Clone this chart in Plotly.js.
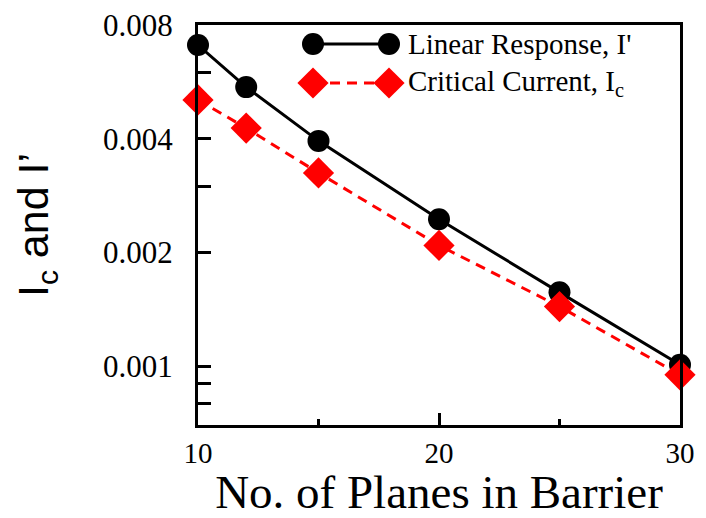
<!DOCTYPE html>
<html>
<head>
<meta charset="utf-8">
<script src="https://cdn.plot.ly/plotly-3.0.1.min.js"></script>
<style>
  html, body { margin: 0; padding: 0; background: #fff; }
  #chart { width: 706px; height: 518px; }
</style>
</head>
<body>
<div id="chart"></div>
<script>
// Number of planes in the barrier
const planes = [10, 12, 15, 20, 25, 30];
// Linear response current I'
const linearResponse = [0.00708, 0.00548, 0.00395, 0.00245, 0.00157, 0.00101];
// Critical current I_c
const criticalCurrent = [0.00507, 0.00427, 0.00325, 0.00209, 0.00144, 0.00095];

// Axis ticks
const xMajorTicks = [10, 20, 30];
const xMinorTicks = [15, 25];
const yMajorTicks = [0.001, 0.002, 0.004, 0.008];
const yTickText = ['0.001', '0.002', '0.004', '0.008'];
const yMinorTicks = [0.0008, 0.0009, 0.003, 0.006];

const seriesNames = ["Linear Response, I'", 'Critical Current, I<sub>c</sub>'];

const W = 706, H = 518;
const M = { l: 198, r: 26, t: 25, b: 93 };
const plotW = W - M.l - M.r, plotH = H - M.t - M.b;
// pixel -> paper coordinates for the in-plot key
const px = x => (x - M.l) / plotW;
const py = y => (H - M.b - y) / plotH;

const serif = 'Liberation Serif, Times New Roman, serif';
const RED = '#ff0000';

const traces = [
  {
    x: planes, y: linearResponse, name: seriesNames[0],
    type: 'scatter', mode: 'lines+markers', cliponaxis: false,
    line: { color: '#000', width: 3 },
    marker: { symbol: 'circle', size: 22, color: '#000' }
  },
  {
    x: planes, y: criticalCurrent, name: seriesNames[1],
    type: 'scatter', mode: 'lines+markers', cliponaxis: false,
    line: { color: RED, width: 3, dash: '10px,7px' },
    marker: { symbol: 'diamond', size: 24, color: RED }
  }
];

// Key drawn inside the frame: line with a marker at each end, then the label
const keyX0 = 313, keyX1 = 389, keyTextX = 406;
const rows = [44, 83];
const shapes = [];
const annotations = [];

rows.forEach((rowY, i) => {
  const isLinear = i === 0;
  const color = isLinear ? '#000' : RED;
  shapes.push({
    type: 'line', xref: 'paper', yref: 'paper', layer: 'above',
    x0: px(keyX0), x1: px(keyX1), y0: py(rowY), y1: py(rowY),
    line: { color: color, width: 3, dash: isLinear ? 'solid' : '10px,7px' }
  });
  [keyX0, keyX1].forEach(cx => {
    if (isLinear) {
      shapes.push({
        type: 'circle', xref: 'paper', yref: 'paper', layer: 'above',
        xsizemode: 'pixel', ysizemode: 'pixel',
        xanchor: px(cx), yanchor: py(rowY),
        x0: -11, x1: 11, y0: -11, y1: 11,
        fillcolor: color, line: { width: 0 }
      });
    } else {
      shapes.push({
        type: 'path', xref: 'paper', yref: 'paper', layer: 'above',
        xsizemode: 'pixel', ysizemode: 'pixel',
        xanchor: px(cx), yanchor: py(rowY),
        path: 'M-15.6,0 L0,15.6 L15.6,0 L0,-15.6 Z',
        fillcolor: color, line: { width: 0 }
      });
    }
  });
  annotations.push({
    xref: 'paper', yref: 'paper', x: px(keyTextX), y: py(rowY),
    xanchor: 'left', yanchor: 'middle', showarrow: false,
    text: seriesNames[i],
    font: { family: serif, size: 29, color: '#000' }
  });
});

const layout = {
  width: W, height: H,
  margin: M,
  paper_bgcolor: '#fff', plot_bgcolor: '#fff',
  showlegend: false,
  xaxis: {
    range: [10, 30],
    tickmode: 'array', tickvals: xMajorTicks, ticktext: xMajorTicks.map(String),
    ticks: 'inside', ticklen: 12, tickwidth: 3, tickcolor: '#000',
    minor: { tickmode: 'array', tickvals: xMinorTicks, ticks: 'inside', ticklen: 6, tickwidth: 3, tickcolor: '#000', showgrid: false },
    showline: true, linewidth: 3, linecolor: '#000', mirror: true,
    showgrid: false, zeroline: false,
    tickfont: { family: serif, size: 29, color: '#000' },
    ticklabelstandoff: 0,
    title: { text: 'No. of Planes in Barrier', font: { family: serif, size: 47, color: '#000' }, standoff: 14 },
    automargin: false
  },
  yaxis: {
    type: 'log',
    range: [Math.log10(0.0007), Math.log10(0.008)],
    tickmode: 'array', tickvals: yMajorTicks, ticktext: yTickText,
    ticks: 'inside', ticklen: 13, tickwidth: 3, tickcolor: '#000',
    minor: { tickmode: 'array', tickvals: yMinorTicks, ticks: 'inside', ticklen: 13, tickwidth: 3, tickcolor: '#000', showgrid: false },
    showline: true, linewidth: 3, linecolor: '#000', mirror: true,
    showgrid: false, zeroline: false,
    tickfont: { family: serif, size: 31, color: '#000' },
    ticklabelstandoff: 16,
    title: { text: 'I<sub>c</sub> and I\u2019', font: { family: 'Liberation Sans, Arial, sans-serif', size: 43, color: '#000' }, standoff: 41 },
    automargin: false
  },
  shapes: shapes,
  annotations: annotations
};

Plotly.newPlot('chart', traces, layout, { displayModeBar: false, staticPlot: true });
</script>
</body>
</html>
